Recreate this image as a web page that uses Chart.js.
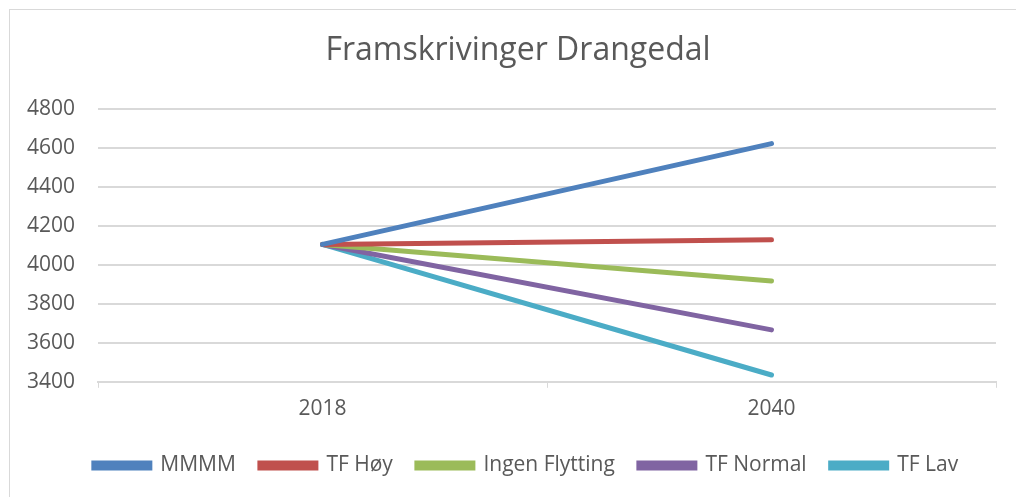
<!DOCTYPE html>
<html><head><meta charset="utf-8">
<script src="https://cdn.jsdelivr.net/npm/chart.js@4/dist/chart.umd.min.js"></script>
<style>
html,body{margin:0;padding:0;background:#fff;overflow:hidden;width:1016px;height:497px;}
#frame{position:absolute;left:9px;top:9px;width:1100px;height:600px;border:1px solid #d9d9d9;box-sizing:border-box;}
#wrap{position:absolute;left:10px;top:10px;width:1016px;height:487px;}
</style></head><body>
<div id="frame"></div>
<div id="wrap"><canvas id="c"></canvas></div>
<script>
const categories = ['2018', '2040'];
const mmmm = [4106, 4624];
const tfHoy = [4106, 4130];
const ingenFlytting = [4106, 3918];
const tfNormal = [4106, 3667];
const tfLav = [4106, 3435];
const yTicks = [3400, 3600, 3800, 4000, 4200, 4400, 4600, 4800];

const FONT = '"Open Sans", sans-serif';
const TXT = '#595959';
function ds(label, data, color){
  return {label, data, borderColor: color, backgroundColor: color, borderWidth: 5,
    pointRadius: 0, pointHoverRadius: 0, tension: 0, borderCapStyle: 'round', fill: false};
}
const shiftBoxes = {
  id: 'shiftBoxes',
  afterLayout(chart) {
    if (chart.titleBlock) chart.titleBlock.left += 30;
    if (chart.legend) chart.legend.left += 46;
  }
};
new Chart(document.getElementById('c'), {
  type: 'line',
  data: {
    labels: categories,
    datasets: [
      ds('MMMM', mmmm, '#4f81bd'),
      ds('TF Høy', tfHoy, '#c0504d'),
      ds('Ingen Flytting', ingenFlytting, '#9bbb59'),
      ds('TF Normal', tfNormal, '#8064a2'),
      ds('TF Lav', tfLav, '#4bacc6')
    ]
  },
  plugins: [shiftBoxes],
  options: {
    responsive: true, maintainAspectRatio: false, animation: false,
    layout: {padding: {left: 0, right: 30, top: 16, bottom: 11}},
    plugins: {
      title: {display: true, text: 'Framskrivinger Drangedal', color: TXT,
        font: {family: FONT, size: 32, weight: 'normal'}, padding: {top: 6, bottom: 39}},
      legend: {position: 'bottom', labels: {color: TXT, font: {family: FONT, size: 21},
        boxWidth: 56, boxHeight: 5, padding: 24}},
      tooltip: {enabled: false}
    },
    scales: {
      x: {offset: true,
        grid: {offset: true, drawOnChartArea: false, drawTicks: true, tickLength: 6, color: '#d9d9d9'},
        border: {display: true, color: '#d9d9d9', width: 2},
        ticks: {color: TXT, font: {family: FONT, size: 21}, padding: 9}},
      y: {min: 3400, max: 4800,
        afterBuildTicks: (s) => { s.ticks = yTicks.map(v => ({value: v})); },
        afterFit: (s) => { s.width = 88; },
        grid: {color: '#d9d9d9', lineWidth: 2, drawTicks: false},
        border: {display: false},
        ticks: {color: TXT, font: {family: FONT, size: 21}, padding: 23,
          callback: (v) => String(v)}}
    }
  }
});
</script></body></html>
